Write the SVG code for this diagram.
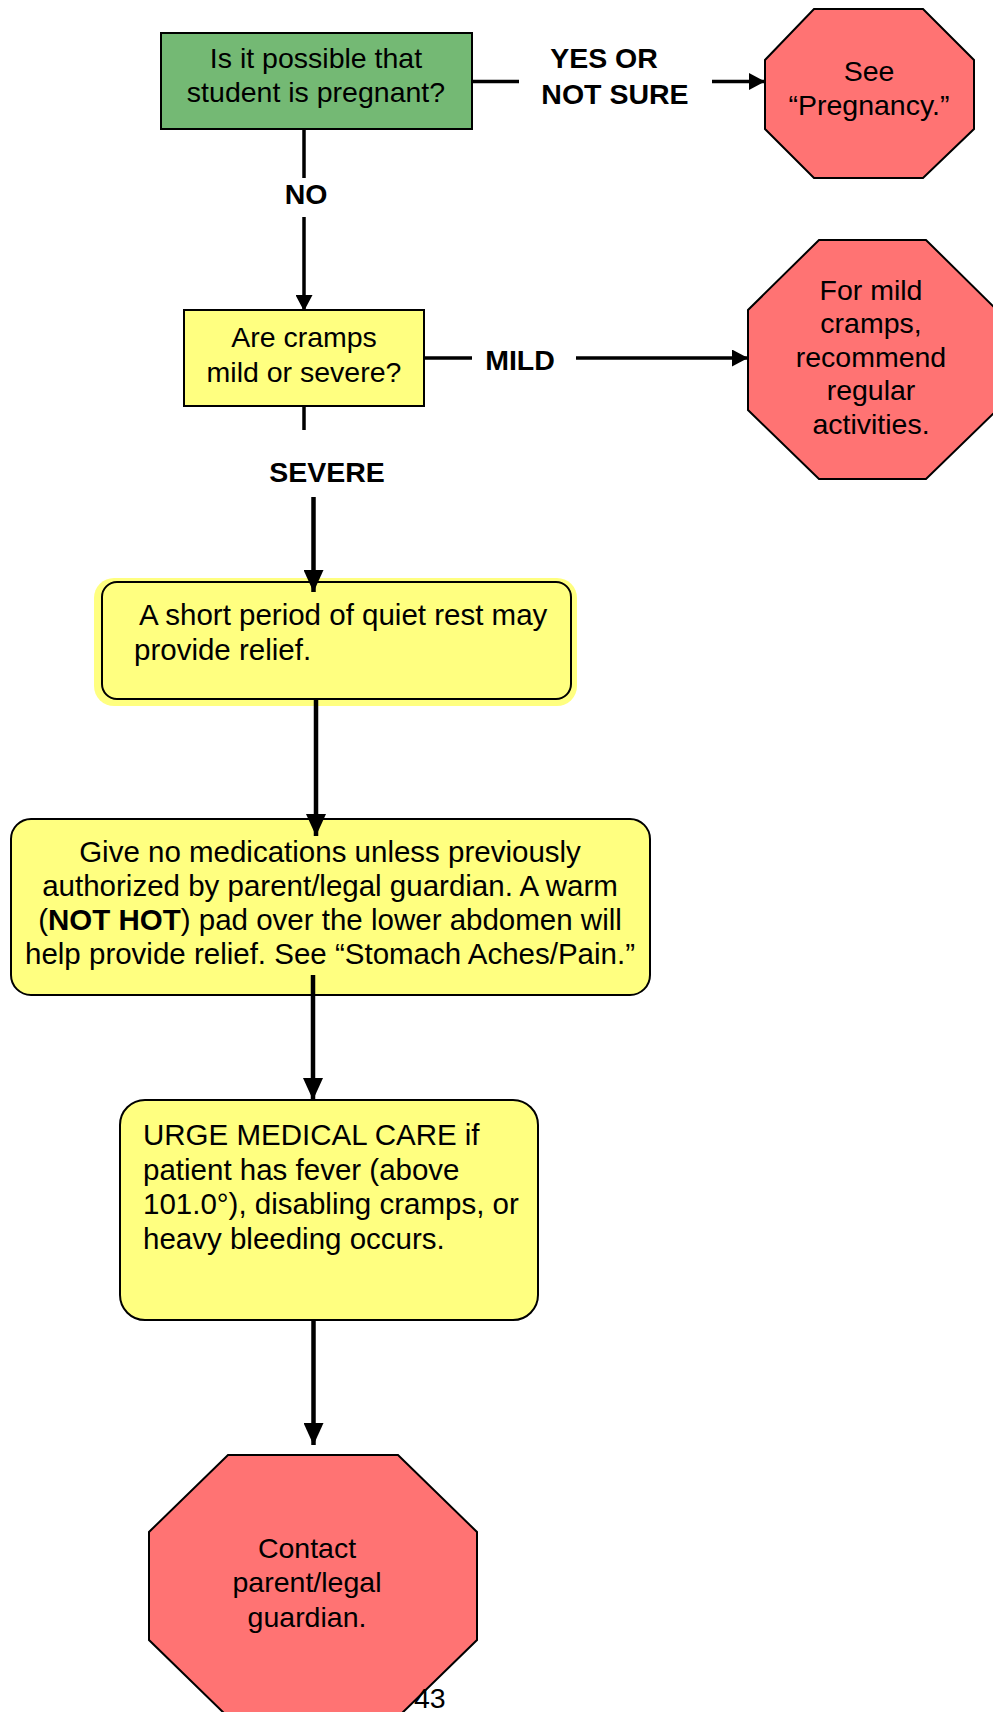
<svg xmlns="http://www.w3.org/2000/svg" width="993" height="1712" viewBox="0 0 993 1712">
  <style>
    text { font-family: "Liberation Sans", Arial, sans-serif; font-size: 28.5px; fill: #000; }
    .body { font-size: 29.5px; }
    .c { text-anchor: middle; }
    .lbl { font-weight: bold; text-anchor: middle; }
    .box { stroke: #000; stroke-width: 2; }
    .green { fill: #74b974; }
    .yellow { fill: #ffff80; }
    .red { fill: #ff7373; stroke: #000; stroke-width: 2; }
    .wire { stroke: #000; fill: none; stroke-width: 3.5; }
    .wire-heavy { stroke: #000; fill: none; stroke-width: 4.5; }
  </style>
  <defs>
    <marker id="arrowS" markerUnits="userSpaceOnUse" markerWidth="16" markerHeight="17" viewBox="0 0 16 17" refX="16" refY="8.5" orient="auto">
      <path d="M0,0 L16,8.5 L0,17 Z" fill="#000"/>
    </marker>
    <marker id="arrowL" markerUnits="userSpaceOnUse" markerWidth="22" markerHeight="20" viewBox="0 0 22 20" refX="22" refY="10" orient="auto">
      <path d="M0,0 L22,10 L0,20 Z" fill="#000"/>
    </marker>
  </defs>

  <!-- pregnancy question -->
  <g id="q-pregnant">
    <rect class="box green" x="161" y="33" width="311" height="96"/>
    <text class="c" x="316" y="68">Is it possible that</text>
    <text class="c" x="316" y="102">student is pregnant?</text>
  </g>

  <!-- see pregnancy -->
  <g id="stop-pregnancy">
    <polygon class="red" points="814,9 923,9 974,60 974,129 923,178 814,178 765,129 765,60"/>
    <text class="c" x="869" y="81">See</text>
    <text class="c" x="869" y="115">“Pregnancy.”</text>
  </g>

  <!-- cramps question -->
  <g id="q-cramps">
    <rect class="box yellow" x="184" y="310" width="240" height="96"/>
    <text class="c" x="304" y="347">Are cramps</text>
    <text class="c" x="304" y="382">mild or severe?</text>
  </g>

  <!-- mild cramps -->
  <g id="stop-mild">
    <polygon class="red" points="819,240 926,240 997,310 997,410 926,479 819,479 748,410 748,310"/>
    <text class="c" x="871" y="300">For mild</text>
    <text class="c" x="871" y="333">cramps,</text>
    <text class="c" x="871" y="367">recommend</text>
    <text class="c" x="871" y="400">regular</text>
    <text class="c" x="871" y="434">activities.</text>
  </g>

  <!-- quiet rest -->
  <g id="step-rest">
    <rect x="94" y="578" width="483" height="128" rx="20" fill="#ffff80"/>
    <rect class="box yellow" x="102" y="582" width="469" height="117" rx="15"/>
    <text class="body" x="139" y="625">A short period of quiet rest may</text>
    <text class="body" x="134" y="660">provide relief.</text>
  </g>

  <!-- medications -->
  <g id="step-meds">
    <rect class="box yellow" x="11" y="819" width="639" height="176" rx="20"/>
    <text class="c body" x="330" y="862">Give no medications unless previously</text>
    <text class="c body" x="330" y="896">authorized by parent/legal guardian. A warm</text>
    <text class="c body" x="330" y="930">(<tspan font-weight="bold">NOT HOT</tspan>) pad over the lower abdomen will</text>
    <text class="c body" x="330" y="964">help provide relief. See “Stomach Aches/Pain.”</text>
  </g>

  <!-- medical care -->
  <g id="step-care">
    <rect class="box yellow" x="120" y="1100" width="418" height="220" rx="25"/>
    <text class="body" x="143" y="1145">URGE MEDICAL CARE if</text>
    <text class="body" x="143" y="1180">patient has fever (above</text>
    <text class="body" x="143" y="1214">101.0°), disabling cramps, or</text>
    <text class="body" x="143" y="1249">heavy bleeding occurs.</text>
  </g>

  <!-- contact guardian -->
  <g id="stop-contact">
    <polygon class="red" points="228,1455 398,1455 477,1532 477,1640 398,1717 228,1717 149,1640 149,1532"/>
    <text class="c" x="307" y="1558">Contact</text>
    <text class="c" x="307" y="1592">parent/legal</text>
    <text class="c" x="307" y="1627">guardian.</text>
  </g>

  <!-- connectors, drawn over the boxes so the arrowheads overlap their tops -->
  <g id="connectors">
    <line class="wire" x1="472" y1="81.5" x2="519" y2="81.5"/>
    <line class="wire" x1="712" y1="81.5" x2="765" y2="81.5" marker-end="url(#arrowS)"/>
    <line class="wire" x1="304" y1="129" x2="304" y2="178"/>
    <line class="wire" x1="304" y1="217" x2="304" y2="311" marker-end="url(#arrowS)"/>
    <line class="wire" x1="424" y1="358" x2="472" y2="358"/>
    <line class="wire" x1="576" y1="358" x2="748" y2="358" marker-end="url(#arrowS)"/>
    <line class="wire" x1="304" y1="406" x2="304" y2="430"/>
    <line class="wire-heavy" x1="313.5" y1="497" x2="313.5" y2="592" marker-end="url(#arrowL)"/>
    <line class="wire-heavy" x1="316" y1="699" x2="316" y2="836" marker-end="url(#arrowL)"/>
    <line class="wire-heavy" x1="313" y1="975" x2="313" y2="1100" marker-end="url(#arrowL)"/>
    <line class="wire-heavy" x1="313.5" y1="1320" x2="313.5" y2="1445" marker-end="url(#arrowL)"/>
    <text class="lbl" x="604" y="68">YES OR</text>
    <text class="lbl" x="615" y="104">NOT SURE</text>
    <text class="lbl" x="306" y="204">NO</text>
    <text class="lbl" x="520" y="370">MILD</text>
    <text class="lbl" x="327" y="482">SEVERE</text>
  </g>

  <!-- page number -->
  <text id="page-number" x="414" y="1708">43</text>
</svg>
